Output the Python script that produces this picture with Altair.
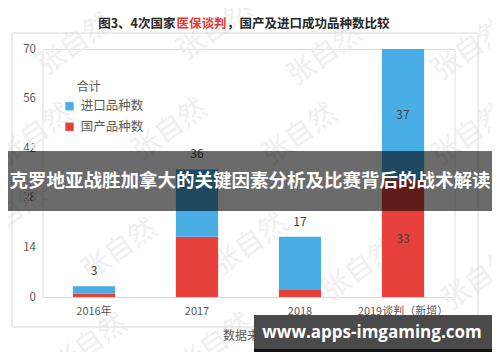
import altair as alt
import pandas as pd

# ---------------- data ----------------
YEARS = ["2016年", "2017", "2018", "2019谈判（新增）"]
IMPORTED = [2, 19, 15, 37]
DOMESTIC = [1, 17, 2, 33]
SERIES = ["进口品种数", "国产品种数"]
COLORS = ["#4aaee6", "#e8403a"]
Y_TICKS = [0, 14, 28, 42, 56, 70]
SEGMENT_LABEL_YEARS = ["2019谈判（新增）"]

TITLE_PARTS = ["图3、4次国家", "医保谈判", "，国产及进口成功品种数比较"]
LEGEND_TITLE = "合计"
BANNER = "克罗地亚战胜加拿大的关键因素分析及比赛背后的战术解读"
SITE = "www.apps-imgaming.com"
SOURCE = "数据来源：公开资料整理"
WATERMARK = "张自然"

FONT = "Noto Sans CJK SC"

# ---------------- tables ----------------
rows = []
for y, imp, dom in zip(YEARS, IMPORTED, DOMESTIC):
    show = y in SEGMENT_LABEL_YEARS
    rows.append({"year": y, "series": SERIES[1], "value": dom, "ord": 0,
                 "mid": dom / 2, "label": str(dom) if show else ""})
    rows.append({"year": y, "series": SERIES[0], "value": imp, "ord": 1,
                 "mid": dom + imp / 2, "label": str(imp) if show else ""})
df = pd.DataFrame(rows)
tot = pd.DataFrame({"year": YEARS, "total": [a + b for a, b in zip(IMPORTED, DOMESTIC)]})
tot = tot[~tot["year"].isin(SEGMENT_LABEL_YEARS)]
seg = df[df["label"] != ""]

OX, OY = 42.5, 49.0  # plot origin in page coordinates


def px(x):
    return x - OX


def py(y):
    return y - OY


x_enc = alt.X("year:N", sort=YEARS,
              scale=alt.Scale(paddingInner=0.59, paddingOuter=0.295),
              axis=alt.Axis(title=None, labelAngle=0, ticks=False, domainColor="#d9d9d9",
                            labelColor="#595959", labelFontSize=11, labelPadding=8,
                            labelFont=FONT))
y_scale = alt.Scale(domain=[0, 70], nice=False)

bars = alt.Chart(df).mark_bar().encode(
    x=x_enc,
    y=alt.Y("value:Q", stack="zero", scale=y_scale,
            axis=alt.Axis(title=None, values=Y_TICKS, ticks=False, domain=False, grid=False,
                          labelColor="#595959", labelFontSize=11.5, labelPadding=7,
                          labelFont=FONT)),
    color=alt.Color("series:N", scale=alt.Scale(domain=SERIES, range=COLORS),
                    legend=alt.Legend(orient="none", legendX=20.8, legendY=51, title=None,
                                      symbolType="square", symbolSize=70, symbolStrokeWidth=0,
                                      labelFontSize=12.5, labelColor="#595959", labelFont=FONT,
                                      rowPadding=7.5, padding=0, labelOffset=5)),
    order=alt.Order("ord:Q"),
)

tot_text = alt.Chart(tot).mark_text(dy=-15, fontSize=12, color="#404040", font=FONT).encode(
    x=alt.X("year:N", sort=YEARS), y=alt.Y("total:Q", scale=y_scale), text="total:Q")

seg_text = alt.Chart(seg).mark_text(fontSize=12, color="#404040", font=FONT, baseline="middle").encode(
    x=alt.X("year:N", sort=YEARS), y=alt.Y("mid:Q", scale=y_scale), text="label:N")


def deco_text(text, x, y, **kw):
    return alt.Chart(pd.DataFrame({"t": [text]})).mark_text(**kw).encode(
        x=alt.value(px(x)), y=alt.value(py(y)), text="t:N")


def deco_rect(x, x2, y, y2, **kw):
    return alt.Chart(pd.DataFrame({"a": [0]})).mark_rect(**kw).encode(
        x=alt.value(px(x)), x2=alt.value(px(x2)), y=alt.value(py(y)), y2=alt.value(py(y2)))


# watermarks
wm_pos = [(75, 45), (215, 30), (325, 55), (470, 50),
          (35, 135), (170, 130), (300, 135), (470, 135),
          (10, 215), (120, 250), (250, 245), (360, 270), (480, 280),
          (90, 345), (215, 345)]
watermarks = [deco_text(WATERMARK, x, y, fontSize=28, color="#efefef", angle=325, font=FONT,
                        align="center", baseline="middle") for x, y in wm_pos]

frame = deco_rect(12, 478, 33, 327, fill="white", fillOpacity=0, stroke="#d9d9d9", strokeWidth=1)

title_l = deco_text(TITLE_PARTS[0], 175.5, 24, fontSize=12.5, fontWeight="bold", color="#262626",
                    align="right", baseline="middle", font=FONT)
title_m = deco_text(TITLE_PARTS[1], 201.5, 24, fontSize=12.5, fontWeight="bold", color="#e03c31",
                    align="center", baseline="middle", font=FONT)
title_r = deco_text(TITLE_PARTS[2], 227, 24, fontSize=12.5, fontWeight="bold", color="#262626",
                    align="left", baseline="middle", font=FONT)

leg_title = deco_text(LEGEND_TITLE, 76.7, 86.7, fontSize=12, color="#595959", align="left",
                      baseline="middle", font=FONT)

source = deco_text(SOURCE, 223, 336, fontSize=12, color="#595959", align="left",
                   baseline="middle", font=FONT)

banner = deco_rect(0, 500, 151, 211, fill="black", fillOpacity=0.58)
banner_text = deco_text(BANNER, 250, 181, fontSize=18.5, fontWeight="bold", color="white",
                        align="center", baseline="middle", font=FONT)

site_box = deco_rect(254, 500, 315, 352, fill="#4a4a4a")
site_line = deco_rect(254, 500, 349, 352, fill="#111111")
site_text = deco_text(SITE, 372, 333, fontSize=17, fontWeight="bold", color="white",
                      align="center", baseline="middle", font="Open Sans")

chart = alt.layer(
    *watermarks, frame, bars, tot_text, seg_text, title_l, title_m, title_r, leg_title, source,
    banner, banner_text, site_box, site_line, site_text
).properties(
    width=412, height=248,
    padding={"left": 34.5, "top": 41, "right": 37.5, "bottom": 55},
    autosize="none",
).configure_view(stroke=None).configure(font=FONT, background="white")

chart.save("out.html", embed_options={"renderer": "svg", "actions": False})
